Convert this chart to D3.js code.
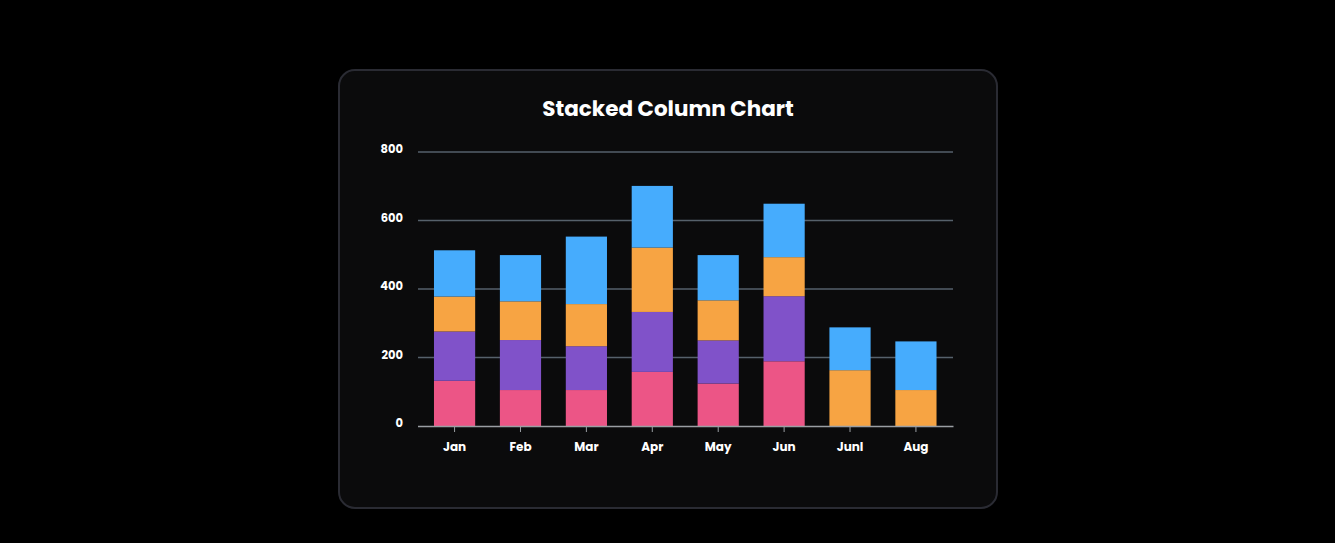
<!DOCTYPE html>
<html>
<head>
<meta charset="utf-8">
<script src="https://cdn.jsdelivr.net/npm/d3@7"></script>
<style>
  html, body { margin: 0; padding: 0; background: #000; }
  body { width: 1335px; height: 543px; overflow: hidden; }
  svg { display: block; }
</style>
</head>
<body>
<svg id="chart" width="1335" height="543"></svg>
<script>
const categories = ["Jan", "Feb", "Mar", "Apr", "May", "Jun", "Junl", "Aug"];
const seriesNames = ["A", "B", "C", "D"];
const seriesA = [132, 105, 105, 158, 124, 189, 0, 0];
const seriesB = [144, 146, 128, 175, 126, 190, 0, 0];
const seriesC = [102, 113, 123, 188, 117, 114, 163, 105];
const seriesD = [135, 135, 197, 180, 132, 156, 125, 142];
const yTicks = [0, 200, 400, 600, 800];
const colors = ["#ec5586", "#8052c9", "#f7a443", "#46acfd"];
const title = "Stacked Column Chart";

const svg = d3.select("#chart");
const font = "Poppins, Lato, 'Open Sans', sans-serif";

// card
svg.append("rect")
  .attr("x", 339).attr("y", 70).attr("width", 658).attr("height", 438)
  .attr("rx", 16).attr("ry", 16)
  .attr("fill", "#0b0b0c").attr("stroke", "#2a2b33").attr("stroke-width", 2);

svg.append("text")
  .attr("x", 668).attr("y", 116)
  .attr("text-anchor", "middle")
  .attr("fill", "#ffffff")
  .attr("font-family", font).attr("font-weight", 700).attr("font-size", 21.5)
  .text(title);

const rows = categories.map((c, i) => ({ cat: c, A: seriesA[i], B: seriesB[i], C: seriesC[i], D: seriesD[i] }));
const stack = d3.stack().keys(seriesNames)(rows);

const x = d3.scaleBand().domain(categories).range([417.5, 953]).paddingInner(0.375).paddingOuter(0.25);
const y = d3.scaleLinear().domain([0, 800]).range([426, 152]);

// grid
svg.append("g").selectAll("line").data(yTicks.filter(d => d > 0)).join("line")
  .attr("x1", 418).attr("x2", 953)
  .attr("y1", d => y(d)).attr("y2", d => y(d))
  .attr("stroke", "#56616b").attr("stroke-width", 1.5);

// y labels
svg.append("g").selectAll("text").data(yTicks).join("text")
  .attr("x", 403).attr("y", d => y(d) - 2)
  .attr("text-anchor", "end").attr("dominant-baseline", "middle")
  .attr("fill", "#ffffff")
  .attr("font-family", font).attr("font-weight", 700).attr("font-size", 11.5)
  .text(d => d);

// bars
svg.append("g").selectAll("g").data(stack).join("g")
  .attr("fill", (d, i) => colors[i])
  .selectAll("rect").data(d => d.filter(s => s[1] - s[0] > 0)).join("rect")
  .attr("x", d => x(d.data.cat))
  .attr("width", x.bandwidth())
  .attr("y", d => y(d[1]))
  .attr("height", d => y(d[0]) - y(d[1]));

// x axis
const xAxis = svg.append("g").attr("transform", "translate(0,426)")
  .call(d3.axisBottom(x).tickSize(6).tickSizeOuter(0).tickPadding(10));
xAxis.select(".domain").attr("stroke", "#9a9ea3").attr("stroke-width", 1.5);
xAxis.selectAll(".tick line").attr("stroke", "#9a9ea3");
xAxis.selectAll(".tick text")
  .attr("fill", "#ffffff")
  .attr("font-family", font).attr("font-weight", 700).attr("font-size", 12);
</script>
</body>
</html>
